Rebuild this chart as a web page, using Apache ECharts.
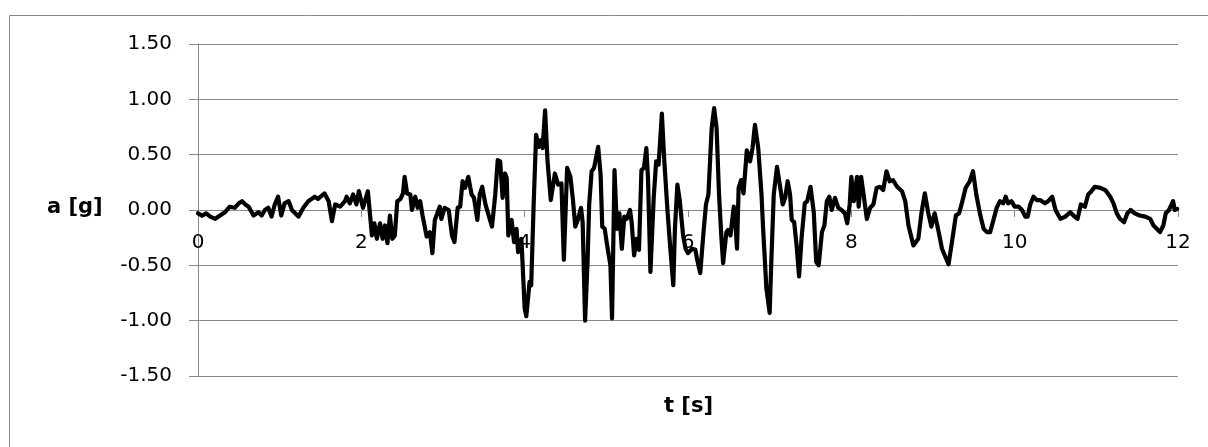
<!DOCTYPE html>
<html>
<head>
<meta charset="utf-8">
<script src="https://cdn.jsdelivr.net/npm/echarts@6/dist/echarts.min.js"></script>
<style>
html,body{margin:0;padding:0;background:#fff;}
#chart{width:1208px;height:447px;}
</style>
</head>
<body>
<div id="chart"></div>
<script>
// time [s]
const tValues = [
0.00,0.05,0.10,0.15,0.21,0.27,0.33,0.39,0.45,0.50,0.54,0.58,0.62,0.68,0.74,0.78,0.82,0.86,0.90,0.94,0.98,
1.02,1.06,1.11,1.15,1.23,1.29,1.35,1.43,1.47,1.55,1.60,1.64,1.68,1.74,1.80,1.82,1.86,1.90,1.94,1.97,
2.02,2.08,2.13,2.16,2.19,2.23,2.26,2.29,2.32,2.35,2.38,2.41,2.44,2.48,2.51,2.53,2.56,2.60,2.62,2.66,2.69,2.72,2.75,2.80,2.84,2.87,2.90,2.96,2.98,
3.02,3.07,3.11,3.14,3.18,3.21,3.24,3.27,3.31,3.35,3.38,3.42,3.45,3.48,3.52,3.56,3.60,3.64,3.67,3.70,3.73,3.76,3.78,3.80,3.84,3.87,3.90,3.92,3.96,
4.00,4.02,4.06,4.08,4.11,4.14,4.17,4.20,4.22,4.25,4.28,4.32,4.37,4.41,4.45,4.48,4.52,4.56,4.59,4.62,4.65,4.69,4.71,4.74,4.77,4.79,4.82,4.85,4.90,4.93,4.95,4.98,
5.01,5.05,5.07,5.10,5.13,5.16,5.19,5.22,5.25,5.29,5.31,5.34,5.37,5.40,5.43,5.46,5.49,5.51,5.54,5.58,5.61,5.64,5.68,5.71,5.75,5.79,5.82,5.84,5.87,5.90,5.94,5.97,
6.00,6.05,6.09,6.11,6.15,6.19,6.22,6.25,6.29,6.32,6.35,6.38,6.41,6.43,6.47,6.49,6.52,6.56,6.58,6.60,6.62,6.65,6.68,6.72,6.76,6.79,6.82,6.86,6.90,6.92,6.96,
7.00,7.02,7.05,7.09,7.13,7.16,7.19,7.22,7.25,7.27,7.30,7.33,7.36,7.39,7.43,7.46,7.50,7.54,7.57,7.60,7.64,7.67,7.70,7.73,7.76,7.80,7.84,7.88,7.92,7.95,7.98,
8.00,8.03,8.07,8.09,8.12,8.15,8.19,8.23,8.27,8.31,8.35,8.39,8.43,8.47,8.51,8.56,8.62,8.66,8.70,8.76,8.82,8.86,8.90,8.94,8.98,
9.02,9.07,9.11,9.19,9.23,9.25,9.28,9.32,9.36,9.40,9.45,9.49,9.53,9.58,9.62,9.66,9.70,9.74,9.78,9.82,9.86,9.89,9.92,9.96,
10.00,10.05,10.09,10.13,10.16,10.19,10.23,10.27,10.31,10.37,10.41,10.46,10.50,10.56,10.62,10.68,10.72,10.77,10.81,10.86,10.90,10.94,10.98,
11.05,11.11,11.17,11.21,11.25,11.29,11.34,11.38,11.42,11.47,11.53,11.60,11.66,11.70,11.74,11.78,11.82,11.85,11.89,11.94,11.96,11.99
];
// acceleration [g]
const aValues = [
-0.03,-0.05,-0.03,-0.06,-0.08,-0.05,-0.02,0.03,0.02,0.06,0.08,0.05,0.03,-0.05,-0.02,-0.05,0.00,0.02,-0.06,0.05,0.12,
-0.05,0.06,0.08,0.00,-0.06,0.02,0.08,0.12,0.10,0.15,0.08,-0.10,0.05,0.03,0.08,0.12,0.06,0.14,0.05,0.17,
0.02,0.17,-0.23,-0.12,-0.26,-0.12,-0.26,-0.14,-0.30,-0.05,-0.26,-0.23,0.08,0.10,0.15,0.30,0.15,0.14,0.00,0.12,0.02,0.08,-0.05,-0.24,-0.20,-0.39,-0.09,0.03,-0.08,
0.02,0.00,-0.23,-0.29,0.02,0.03,0.26,0.20,0.30,0.14,0.11,-0.09,0.14,0.21,0.05,-0.05,-0.15,0.14,0.45,0.44,0.11,0.33,0.29,-0.23,-0.09,-0.29,-0.17,-0.38,-0.26,
-0.89,-0.96,-0.65,-0.68,0.05,0.68,0.57,0.63,0.56,0.90,0.44,0.09,0.33,0.23,0.24,-0.45,0.38,0.30,0.10,-0.15,-0.09,0.02,-0.11,-1.00,-0.47,0.05,0.35,0.38,0.57,0.32,-0.15,-0.17,
-0.32,-0.50,-0.98,0.36,-0.17,-0.03,-0.35,-0.06,-0.08,0.00,-0.11,-0.41,-0.26,-0.36,0.36,0.38,0.56,0.29,-0.56,0.11,0.44,0.41,0.87,0.44,-0.02,-0.41,-0.68,-0.17,0.23,0.08,-0.23,-0.35,
-0.39,-0.35,-0.36,-0.44,-0.57,-0.20,0.05,0.14,0.74,0.92,0.74,0.14,-0.26,-0.48,-0.20,-0.18,-0.23,0.03,-0.11,-0.35,0.20,0.27,0.15,0.54,0.44,0.56,0.77,0.56,0.14,-0.17,-0.71,
-0.93,-0.47,0.14,0.39,0.20,0.05,0.11,0.26,0.14,-0.09,-0.11,-0.32,-0.60,-0.26,0.06,0.08,0.21,-0.02,-0.47,-0.50,-0.20,-0.14,0.08,0.12,0.00,0.11,0.02,0.00,-0.03,-0.12,0.05,
0.30,0.08,0.30,0.03,0.30,0.14,-0.08,0.02,0.05,0.20,0.21,0.18,0.35,0.26,0.27,0.21,0.17,0.08,-0.14,-0.32,-0.26,-0.02,0.15,-0.02,-0.15,
-0.03,-0.20,-0.35,-0.49,-0.30,-0.20,-0.05,-0.03,0.08,0.20,0.26,0.35,0.14,-0.05,-0.17,-0.20,-0.20,-0.09,0.02,0.08,0.06,0.12,0.06,0.08,
0.03,0.03,0.00,-0.06,-0.06,0.05,0.12,0.09,0.09,0.06,0.08,0.12,0.00,-0.08,-0.06,-0.02,-0.05,-0.08,0.05,0.03,0.14,0.17,0.21,
0.20,0.18,0.12,0.06,-0.03,-0.08,-0.11,-0.03,0.00,-0.03,-0.05,-0.06,-0.08,-0.14,-0.17,-0.20,-0.14,-0.03,0.00,0.08,0.00,0.01
];
const xTicks = [0, 2, 4, 6, 8, 10, 12];
const yTicks = [-1.5, -1.0, -0.5, 0.0, 0.5, 1.0, 1.5];
const xTitle = 't [s]';
const yTitle = 'a [g]';

const seriesData = tValues.map((t, i) => [t, aValues[i]]);
const gray = '#898989';
const fontFam = '"DejaVu Sans", sans-serif';

const chart = echarts.init(document.getElementById('chart'), null, {renderer: 'canvas'});
chart.setOption({
  backgroundColor: '#ffffff',
  animation: false,
  grid: {left: 198, right: 30, top: 44, bottom: 71, containLabel: false},
  xAxis: {
    type: 'value',
    position: 'bottom',
    offset: -166,
    min: xTicks[0], max: xTicks[xTicks.length - 1], interval: 2,
    axisLine: {show: true, onZero: false, lineStyle: {color: gray, width: 1}},
    axisTick: {show: true, length: 7, lineStyle: {color: gray}},
    axisLabel: {color: '#000', fontSize: 20, fontFamily: fontFam, margin: 23},
    splitLine: {show: false}
  },
  yAxis: {
    type: 'value',
    min: yTicks[0], max: yTicks[yTicks.length - 1], interval: 0.5,
    axisLine: {show: true, lineStyle: {color: gray, width: 1}},
    axisTick: {show: true, length: 9, lineStyle: {color: gray}},
    axisLabel: {color: '#000', fontSize: 20, fontFamily: fontFam, margin: 26,
      formatter: v => v.toFixed(2)},
    splitLine: {show: true, lineStyle: {color: gray, width: 1}}
  },
  graphic: [
    {type: 'rect', silent: true, z: -10,
     shape: {x: 9.5, y: 15.5, width: 1400, height: 600},
     style: {fill: 'none', stroke: gray, lineWidth: 1}},
    {type: 'text', left: 47, top: 197,
     style: {text: yTitle, font: 'bold 21px ' + fontFam, fill: '#000'}},
    {type: 'text', left: 664, top: 396,
     style: {text: xTitle, font: 'bold 21px ' + fontFam, fill: '#000'}}
  ],
  series: [{
    type: 'line',
    data: seriesData,
    showSymbol: false,
    symbol: 'none',
    smooth: false,
    lineStyle: {color: '#000', width: 4.2, join: 'round', cap: 'round'},
    z: 5
  }]
});
</script>
</body>
</html>
